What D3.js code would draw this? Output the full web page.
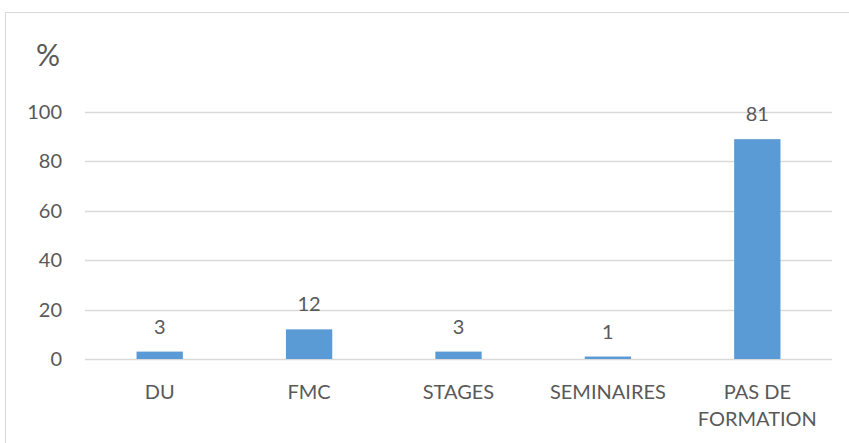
<!DOCTYPE html>
<html>
<head>
<meta charset="utf-8">
<script src="https://cdn.jsdelivr.net/npm/d3@7"></script>
<style>
  body { margin: 0; background: #fff; }
  text { font-family: Lato, "Open Sans", sans-serif; fill: #595959; }
</style>
</head>
<body>
<div id="chart"></div>
<script>
// values
const categories = ["DU", "FMC", "STAGES", "SEMINAIRES", "PAS DE FORMATION"];
const barValues = [3, 12, 3, 1, 89];
const labelValues = [3, 12, 3, 1, 81];
const yTicks = [0, 20, 40, 60, 80, 100];

const width = 849, height = 443;
const margin = {left: 85, right: 17, top: 112, bottom: 84};

const svg = d3.select("#chart")
  .append("svg")
    .attr("width", width)
    .attr("height", height);

// chart frame
svg.append("rect")
  .attr("x", 5.5).attr("y", 12.5)
  .attr("width", width + 10).attr("height", height + 10)
  .attr("fill", "none")
  .attr("stroke", "#d9d9d9");

const x = d3.scaleBand()
  .domain(categories)
  .range([margin.left, width - margin.right])
  .paddingInner(0.69)
  .paddingOuter(0.345);

const y = d3.scaleLinear()
  .domain([0, 100])
  .range([height - margin.bottom, margin.top]);

// gridlines
svg.append("g")
  .selectAll("line")
  .data(yTicks)
  .enter().append("line")
    .attr("x1", margin.left)
    .attr("x2", width - margin.right)
    .attr("y1", d => Math.round(y(d)) + 0.5)
    .attr("y2", d => Math.round(y(d)) + 0.5)
    .attr("stroke", "#d9d9d9")
    .attr("stroke-width", 1.5);

// y axis labels
svg.append("g")
  .selectAll("text")
  .data(yTicks)
  .enter().append("text")
    .attr("x", 62)
    .attr("y", d => y(d))
    .attr("dy", "0.35em")
    .attr("text-anchor", "end")
    .style("font-size", "20px")
    .text(d => d);

svg.append("text")
  .attr("x", 48)
  .attr("y", 55)
  .attr("dy", "0.35em")
  .attr("text-anchor", "middle")
  .style("font-size", "30px")
  .text("%");

// bars
svg.append("g")
  .selectAll("rect")
  .data(categories)
  .enter().append("rect")
    .attr("x", d => x(d))
    .attr("width", x.bandwidth())
    .attr("y", (d, i) => y(barValues[i]))
    .attr("height", (d, i) => y(0) - y(barValues[i]))
    .attr("fill", "#5b9bd5");

// data labels
svg.append("g")
  .selectAll("text")
  .data(categories)
  .enter().append("text")
    .attr("x", d => x(d) + x.bandwidth() / 2)
    .attr("y", (d, i) => y(barValues[i]) - 25)
    .attr("dy", "0.35em")
    .attr("text-anchor", "middle")
    .style("font-size", "20px")
    .text((d, i) => labelValues[i]);

// category labels, wrapped like the original
const catLines = {"PAS DE FORMATION": ["PAS DE", "FORMATION"]};
svg.append("g")
  .selectAll("text")
  .data(categories)
  .enter().append("text")
    .attr("x", d => x(d) + x.bandwidth() / 2)
    .attr("y", 392)
    .attr("dy", "0.35em")
    .attr("text-anchor", "middle")
    .style("font-size", "20px")
    .each(function(d) {
      const lines = catLines[d] || [d];
      d3.select(this).selectAll("tspan")
        .data(lines)
        .enter().append("tspan")
          .attr("x", x(d) + x.bandwidth() / 2)
          .attr("dy", (l, j) => j === 0 ? "0.35em" : "27px")
          .text(l => l);
    });
</script>
</body>
</html>
